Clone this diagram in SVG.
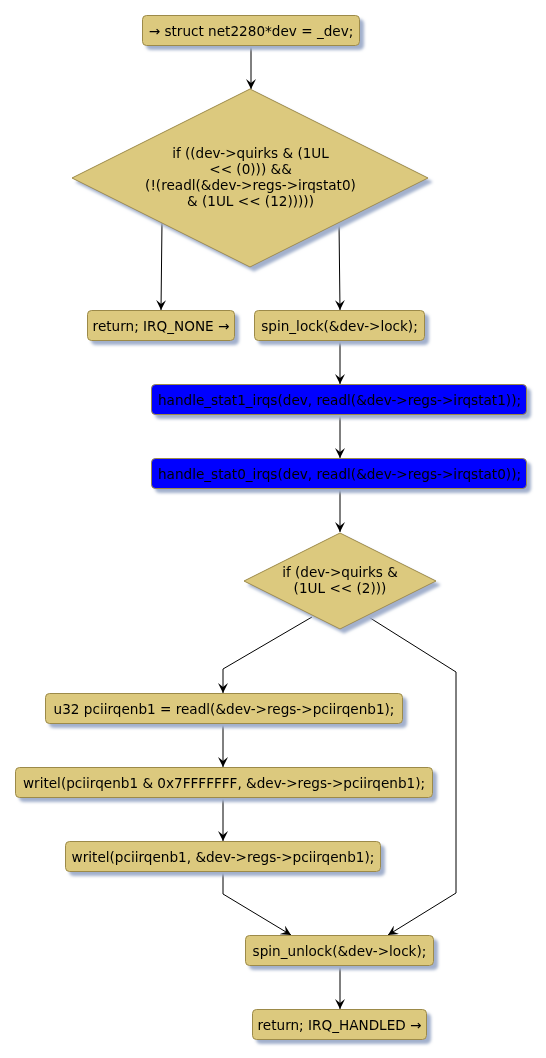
<svg xmlns="http://www.w3.org/2000/svg" width="546" height="1058" viewBox="0 0 546 1058">
<style>
.n{fill:#DCC97E;stroke:#9C8A48;stroke-width:1}
.b{fill:#0000FF;stroke:#9C8A48;stroke-width:1}
.t{font-family:"DejaVu Sans",sans-serif;font-size:13.6px;fill:#000;text-anchor:middle}
.c{fill:none;stroke:#000;stroke-width:1;marker-end:url(#ah)}
.c2{fill:none;stroke:#000;stroke-width:1}
</style>
<defs>
<filter id="sh" x="-10%" y="-10%" width="130%" height="140%">
<feGaussianBlur in="SourceAlpha" stdDeviation="1.5" result="b"/>
<feOffset in="b" dx="4" dy="4" result="o"/>
<feFlood flood-color="#A2B0CC"/>
<feComposite in2="o" operator="in" result="s"/>
<feMerge><feMergeNode in="s"/><feMergeNode in="SourceGraphic"/></feMerge>
</filter>
<marker id="ah" viewBox="0 0 10 10" refX="10" refY="5" markerWidth="10" markerHeight="10" markerUnits="userSpaceOnUse" orient="auto">
<path d="M0,0 L10,5 L0,10 L4,5 Z" fill="#000"/>
</marker>
</defs>
<g id="connectors">
<path class="c" d="M251,45 L251,89"/>
<path class="c" d="M162,222 L161,310"/>
<path class="c" d="M339,222 L340,310"/>
<path class="c" d="M340,341 L340,384"/>
<path class="c" d="M340,415 L340,458"/>
<path class="c" d="M340,489 L340,532"/>
<path class="c" d="M312,617 L223,669 L223,693"/>
<path class="c" d="M367,616 L456,672 L456,893 L388,935"/>
<path class="c" d="M223,724 L223,767"/>
<path class="c" d="M223,798 L223,841"/>
<path class="c" d="M223,872 L223,894 L291,935"/>
<path class="c" d="M340,966 L340,1009"/>
</g>
<g id="start" filter="url(#sh)">
<rect class="n" x="142.5" y="15.5" width="217" height="30" rx="4"/>
<text class="t" x="251" y="35.5">→ struct net2280*dev = _dev;</text>
</g>
<g id="cond1" filter="url(#sh)">
<polygon class="n" points="250,89 428,178 250,267 72,178"/>
<text class="t" x="250.5" y="158">if ((dev-&gt;quirks &amp; (1UL</text>
<text class="t" x="250.5" y="174">&lt;&lt; (0))) &amp;&amp;</text>
<text class="t" x="250.5" y="190">(!(readl(&amp;dev-&gt;regs-&gt;irqstat0)</text>
<text class="t" x="250.5" y="206">&amp; (1UL &lt;&lt; (12)))))</text>
</g>
<g id="ret_none" filter="url(#sh)">
<rect class="n" x="87.5" y="310.5" width="147" height="30" rx="4"/>
<text class="t" x="161" y="330.5">return; IRQ_NONE →</text>
</g>
<g id="spin_lock" filter="url(#sh)">
<rect class="n" x="254.5" y="310.5" width="170" height="30" rx="4"/>
<text class="t" x="339.5" y="330.5">spin_lock(&amp;dev-&gt;lock);</text>
</g>
<g id="stat1" filter="url(#sh)">
<rect class="b" x="151.5" y="384.5" width="375" height="30" rx="4"/>
<text class="t" x="339.5" y="404.5">handle_stat1_irqs(dev, readl(&amp;dev-&gt;regs-&gt;irqstat1));</text>
</g>
<g id="stat0" filter="url(#sh)">
<rect class="b" x="151.5" y="458.5" width="375" height="30" rx="4"/>
<text class="t" x="339.5" y="478.5">handle_stat0_irqs(dev, readl(&amp;dev-&gt;regs-&gt;irqstat0));</text>
</g>
<g id="cond2" filter="url(#sh)">
<polygon class="n" points="340,533 436,581 340,629 244,581"/>
<text class="t" x="340" y="577">if (dev-&gt;quirks &amp;</text>
<text class="t" x="340" y="593">(1UL &lt;&lt; (2)))</text>
</g>
<g id="readl" filter="url(#sh)">
<rect class="n" x="45.5" y="693.5" width="357" height="30" rx="4"/>
<text class="t" x="224" y="713.5">u32 pciirqenb1 = readl(&amp;dev-&gt;regs-&gt;pciirqenb1);</text>
</g>
<g id="writel1" filter="url(#sh)">
<rect class="n" x="15.5" y="767.5" width="417" height="30" rx="4"/>
<text class="t" x="224" y="787.5">writel(pciirqenb1 &amp; 0x7FFFFFFF, &amp;dev-&gt;regs-&gt;pciirqenb1);</text>
</g>
<g id="writel2" filter="url(#sh)">
<rect class="n" x="65.5" y="841.5" width="315" height="30" rx="4"/>
<text class="t" x="223" y="861.5">writel(pciirqenb1, &amp;dev-&gt;regs-&gt;pciirqenb1);</text>
</g>
<g id="spin_unlock" filter="url(#sh)">
<rect class="n" x="245.5" y="935.5" width="188" height="30" rx="4"/>
<text class="t" x="339.5" y="955.5">spin_unlock(&amp;dev-&gt;lock);</text>
</g>
<g id="ret_handled" filter="url(#sh)">
<rect class="n" x="252.5" y="1009.5" width="174" height="30" rx="4"/>
<text class="t" x="339.5" y="1029.5">return; IRQ_HANDLED →</text>
</g>
</svg>
